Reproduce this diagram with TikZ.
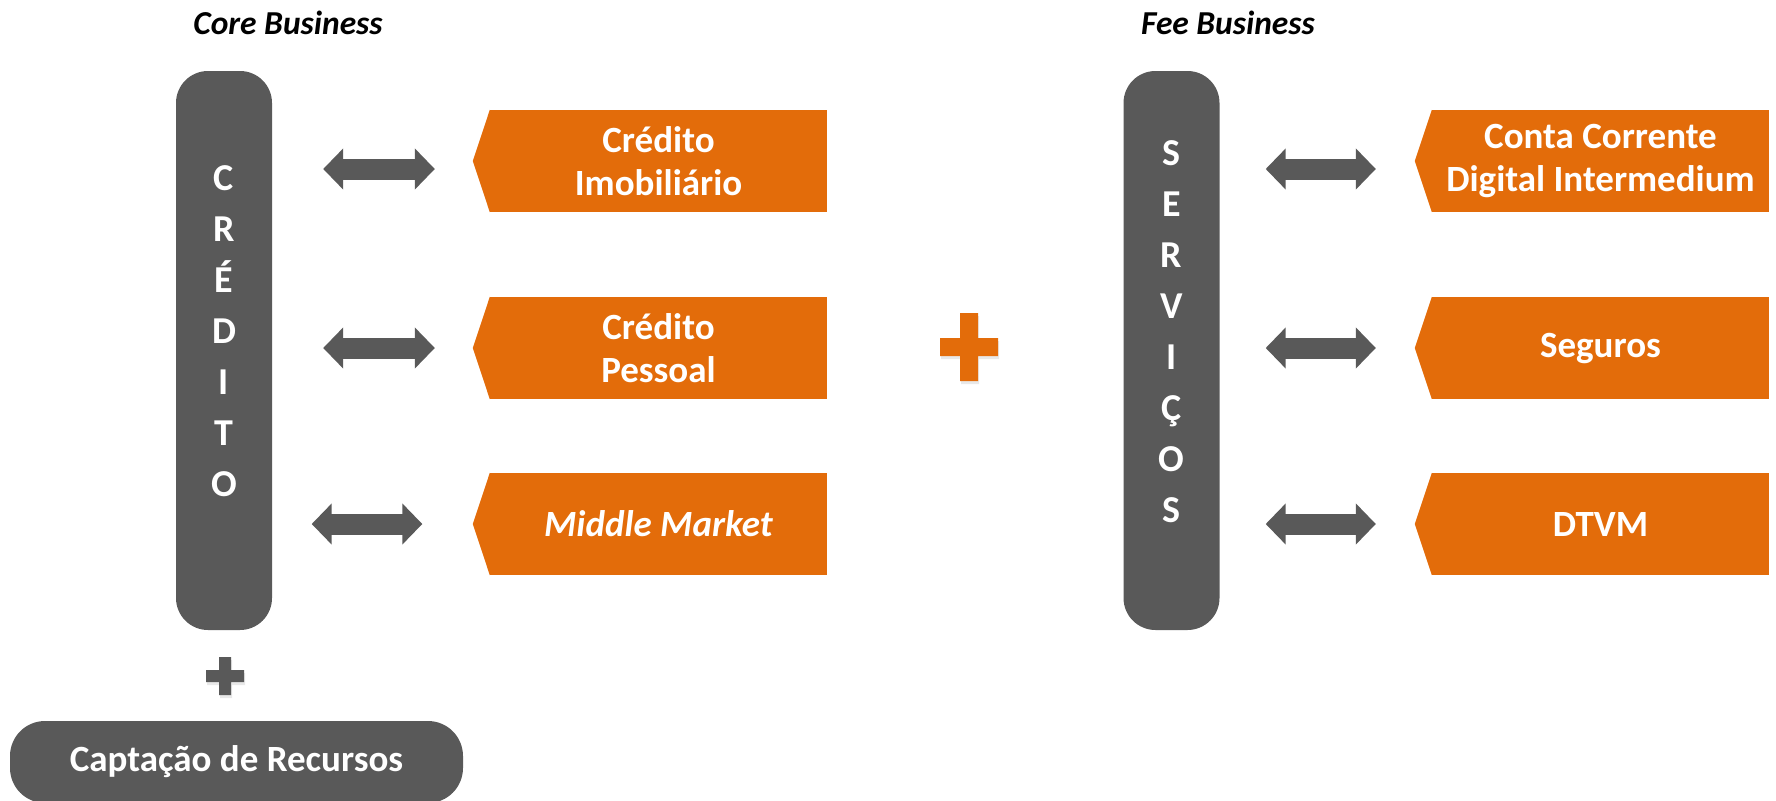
\documentclass[tikz,border=0pt]{standalone}
\usepackage{fontspec}
\setmainfont{Carlito}
\usetikzlibrary{arrows.meta,shadows}

\definecolor{boxorange}{HTML}{E36C0A}
\definecolor{pillgray}{HTML}{595959}

\tikzset{
  vpill/.style={fill=pillgray,rounded corners=32pt,minimum width=96pt,minimum height=559pt,inner sep=0pt},
  pilltext/.style={text=white,align=center,font=\fontsize{38}{51}\selectfont\bfseries},
  product/.style={fill=boxorange,text=white,minimum width=337pt,minimum height=102pt,inner sep=0pt,align=center,font=\fontsize{37}{43}\selectfont\bfseries},
  dbl/.style={draw=pillgray,line width=21pt,{Triangle[length=20pt,width=40pt]}-{Triangle[length=20pt,width=40pt]}},
  heading/.style={font=\fontsize{33.5}{40}\selectfont\bfseries\itshape},
  plusmark/.style={drop shadow={opacity=0.18,shadow xshift=1pt,shadow yshift=-3pt}}
}

\begin{document}
\begin{tikzpicture}[x=1pt,y=-1pt]
\useasboundingbox (0,0) rectangle (1776,800);

\node[heading] (core) at (288,23) {Core Business};
\node[heading] (fee) at (1228,23) {Fee Business};

% pillars
\node[vpill] (cred) at (224,350.5) {};
\node[pilltext] (credtxt) at ([yshift=19pt]cred.center) {C\\R\\É\\D\\I\\T\\O};
\node[vpill] (serv) at (1171.5,350.5) {};
\node[pilltext] (servtxt) at ([yshift=19pt]serv.center) {S\\E\\R\\V\\I\\Ç\\O\\S};

% products
\node[product] (b1) at (658.5,161) {Crédito\\Imobiliário};
\node[product] (b2) at (658.5,348) {Crédito\\Pessoal};
\node[product] (b3) at (658.5,524) {\textit{Middle Market}};
\node[product] (b4) at (1600.5,161) {Conta Corrente\\Digital Intermedium};
\node[product] (b5) at (1600.5,348) {Seguros};
\node[product] (b6) at (1600.5,524) {DTVM};
\foreach \b in {b1,b2,b3,b4,b5,b6}
  \fill[boxorange] (\b.north west) -- ([xshift=-17pt]\b.west) -- (\b.south west) -- cycle;

% arrows
\draw[dbl] ([xshift=51pt,yshift=-8pt]cred.east |- b1.west) -- ([xshift=-55pt,yshift=-8pt]b1.west);
\draw[dbl] ([xshift=51pt]cred.east |- b2.west) -- ([xshift=-55pt]b2.west);
\draw[dbl] ([xshift=39.5pt]cred.east |- b3.west) -- ([xshift=-67.5pt]b3.west);
\draw[dbl] ([xshift=46pt,yshift=-8pt]serv.east |- b4.west) -- ([xshift=-56pt,yshift=-8pt]b4.west);
\draw[dbl] ([xshift=46pt]serv.east |- b5.west) -- ([xshift=-56pt]b5.west);
\draw[dbl] ([xshift=46pt]serv.east |- b6.west) -- ([xshift=-56pt]b6.west);

% plus signs
\begin{scope}[shift={(969,347)}]
\fill[boxorange,plusmark] (-29,-9) -- (-9,-9) -- (-9,-34) -- (9,-34) -- (9,-9) -- (29,-9)
  -- (29,9) -- (9,9) -- (9,34) -- (-9,34) -- (-9,9) -- (-29,9) -- cycle;
\end{scope}
\begin{scope}[shift={(225,676)}]
\fill[pillgray,plusmark] (-19,-6) -- (-6,-6) -- (-6,-19) -- (6,-19) -- (6,-6) -- (19,-6)
  -- (19,6) -- (6,6) -- (6,19) -- (-6,19) -- (-6,6) -- (-19,6) -- cycle;
\end{scope}

\node[fill=pillgray,text=white,rounded corners=35pt,minimum width=453pt,minimum height=82pt,
  inner sep=0pt,font=\fontsize{37}{43}\selectfont\bfseries] (capt) at (236.5,762) {Captação de Recursos};
\end{tikzpicture}
\end{document}
